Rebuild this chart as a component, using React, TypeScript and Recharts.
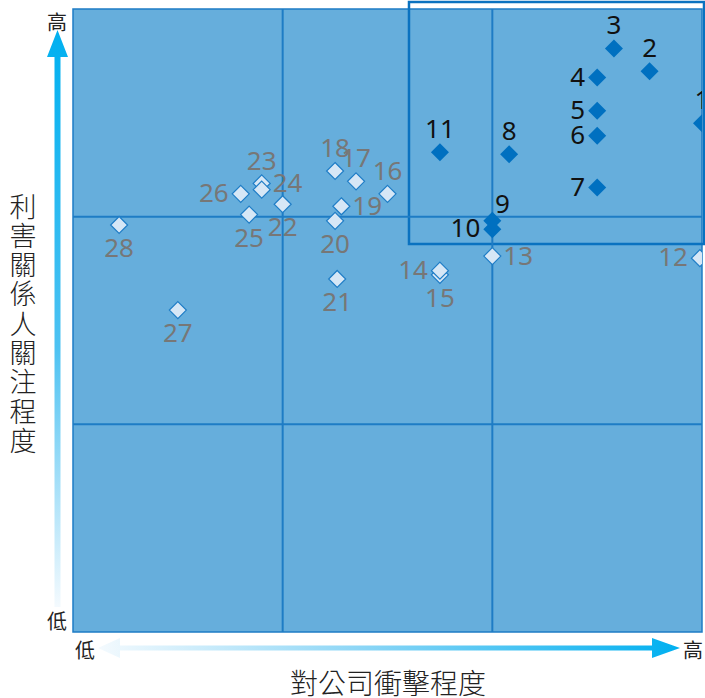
import React from 'react';
import { ScatterChart, Scatter, XAxis, YAxis, ReferenceArea, ReferenceLine } from 'recharts';

// ---- data ----
const darkIds = [1, 2, 3, 4, 5, 6, 7, 8, 9, 10, 11];
const darkX = [3.0, 2.75, 2.58, 2.5, 2.5, 2.5, 2.5, 2.08, 2.0, 2.0, 1.75];
const darkY = [2.45, 2.7, 2.81, 2.67, 2.51, 2.39, 2.14, 2.3, 1.98, 1.94, 2.31];

const lightIds = [12, 13, 14, 15, 16, 17, 18, 19, 20, 21, 22, 23, 24, 25, 26, 27, 28];
const lightX = [2.99, 2.0, 1.75, 1.75, 1.5, 1.35, 1.25, 1.28, 1.25, 1.26, 1.0, 0.9, 0.9, 0.84, 0.8, 0.5, 0.22];
const lightY = [1.8, 1.81, 1.74, 1.72, 2.11, 2.17, 2.22, 2.05, 1.98, 1.7, 2.06, 2.13, 2.16, 2.01, 2.11, 1.55, 1.96];

const gridTicks = [1, 2];
const highlightBox = { x1: 1.6025, x2: 3.0095, y1: 1.868, y2: 3.034 };

const yTitle = '利害關係人關注程度';
const xTitle = '對公司衝擊程度';
const highText = '高';
const lowText = '低';

// label placement (layout, not data)
const labelSide: Record<number, string> = {
  1: 'top', 2: 'top', 3: 'top', 4: 'left', 5: 'left', 6: 'left', 7: 'left', 8: 'top',
  9: 'topright', 10: 'left', 11: 'top',
  12: 'left', 13: 'right', 14: 'left', 15: 'bottom', 16: 'top', 17: 'top', 18: 'top',
  19: 'right', 20: 'bottom', 21: 'bottom', 22: 'bottom', 23: 'hightop', 24: 'right',
  25: 'bottom', 26: 'left', 27: 'bottom', 28: 'bottom',
};

const build = (ids: number[], xs: number[], ys: number[]) =>
  ids.map((id, i) => ({ id, x: xs[i], y: ys[i] })).reverse();

const darkData = build(darkIds, darkX, darkY);
const lightData = build(lightIds, lightX, lightY);

const FONT_NUM = '"Noto Sans", "Liberation Sans", sans-serif';
const FONT_CJK = '"Noto Sans CJK TC", "Noto Sans CJK SC", sans-serif';

const labelPos = (side: string, cx: number, cy: number) => {
  switch (side) {
    case 'left':
      return { x: cx - 12, y: cy + 8, anchor: 'end' };
    case 'right':
      return { x: cx + 11, y: cy + 9, anchor: 'start' };
    case 'bottom':
      return { x: cx, y: cy + 32, anchor: 'middle' };
    case 'topright':
      return { x: cx + 10, y: cy - 8, anchor: 'middle' };
    case 'hightop':
      return { x: cx, y: cy - 20, anchor: 'middle' };
    default:
      return { x: cx, y: cy - 14, anchor: 'middle' };
  }
};

const makeShape = (dark: boolean) => (props: any) => {
  const { cx, cy, payload } = props;
  if (cx == null || cy == null) return <g />;
  const r = dark ? 9 : 8.5;
  const pts = `${cx},${cy - r} ${cx + r},${cy} ${cx},${cy + r} ${cx - r},${cy}`;
  const lp = labelPos(labelSide[payload.id] || 'top', cx, cy);
  return (
    <g>
      <polygon
        points={pts}
        fill={dark ? '#0070C0' : '#D6E7F6'}
        stroke={dark ? '#0070C0' : '#1F7DC6'}
        strokeWidth={dark ? 0 : 1.2}
      />
      <text
        x={lp.x}
        y={lp.y}
        textAnchor={lp.anchor as any}
        fontSize={26}
        fontFamily={FONT_NUM}
        fill={dark ? '#111111' : '#777777'}
      >
        {payload.id}
      </text>
    </g>
  );
};

const W = 705;
const H = 698;

export default function App() {
  return (
    <div style={{ position: 'absolute', left: 0, top: 0, width: W, height: H, background: '#fff' }}>
      <ScatterChart width={W} height={H} margin={{ top: 9, right: 3, bottom: 66, left: 73 }}>
        <XAxis type="number" dataKey="x" domain={[0, 3]} hide allowDataOverflow />
        <YAxis type="number" dataKey="y" domain={[0, 3]} hide allowDataOverflow />
        <ReferenceArea x1={0} x2={3} y1={0} y2={3} fill="#66AEDC" fillOpacity={1} stroke="#1E7CC5" strokeWidth={1.5} />
        {gridTicks.map((t) => (
          <ReferenceLine key={'vx' + t} x={t} stroke="#1E7CC5" strokeWidth={2} />
        ))}
        {gridTicks.map((t) => (
          <ReferenceLine key={'hy' + t} y={t} stroke="#1E7CC5" strokeWidth={2} />
        ))}
        <ReferenceArea
          x1={highlightBox.x1}
          x2={highlightBox.x2}
          y1={highlightBox.y1}
          y2={highlightBox.y2}
          fill="none"
          fillOpacity={0}
          stroke="#0A72C0"
          strokeWidth={2.5}
          ifOverflow="visible"
        />
        <Scatter data={lightData} shape={makeShape(false)} isAnimationActive={false} />
        <Scatter data={darkData} shape={makeShape(true)} isAnimationActive={false} />
      </ScatterChart>
      <svg
        width={W}
        height={H}
        style={{ position: 'absolute', left: 0, top: 0, pointerEvents: 'none' }}
      >
        <defs>
          <linearGradient id="gy" x1="0" y1="0" x2="0" y2="1">
            <stop offset="0" stopColor="#00B0F0" />
            <stop offset="0.55" stopColor="#4DC2F2" />
            <stop offset="1" stopColor="#F4FAFE" />
          </linearGradient>
          <linearGradient id="gx" x1="0" y1="0" x2="1" y2="0">
            <stop offset="0" stopColor="#F4FAFE" />
            <stop offset="0.45" stopColor="#8CD6F6" />
            <stop offset="1" stopColor="#00B0F0" />
          </linearGradient>
        </defs>
        <polygon
          points="57.5,30 68,57 60.5,57 60.5,607 54.5,607 54.5,57 47,57"
          fill="url(#gy)"
        />
        <polygon
          points="98,648 120,638 120,645.5 652,645.5 652,638 680,648 652,658 652,650.5 120,650.5 120,658"
          fill="url(#gx)"
        />
        <text x={57} y={21} fontSize={20} fontFamily={FONT_CJK} fill="#222" textAnchor="middle" dominantBaseline="central">{highText}</text>
        <text x={57} y={620} fontSize={20} fontFamily={FONT_CJK} fill="#222" textAnchor="middle" dominantBaseline="central">{lowText}</text>
        <text x={85} y={649} fontSize={20} fontFamily={FONT_CJK} fill="#222" textAnchor="middle" dominantBaseline="central">{lowText}</text>
        <text x={693} y={649} fontSize={20} fontFamily={FONT_CJK} fill="#222" textAnchor="middle" dominantBaseline="central">{highText}</text>
        {yTitle.split('').map((ch, i) => (
          <text key={i} x={23} y={205 + i * 29.3} fontSize={27} fontFamily={FONT_CJK} fontWeight={300} fill="#222" textAnchor="middle" dominantBaseline="central">{ch}</text>
        ))}
        <text x={388} y={682} fontSize={28} fontFamily={FONT_CJK} fontWeight={300} fill="#222" textAnchor="middle" dominantBaseline="central">
          {xTitle}
        </text>
      </svg>
    </div>
  );
}
